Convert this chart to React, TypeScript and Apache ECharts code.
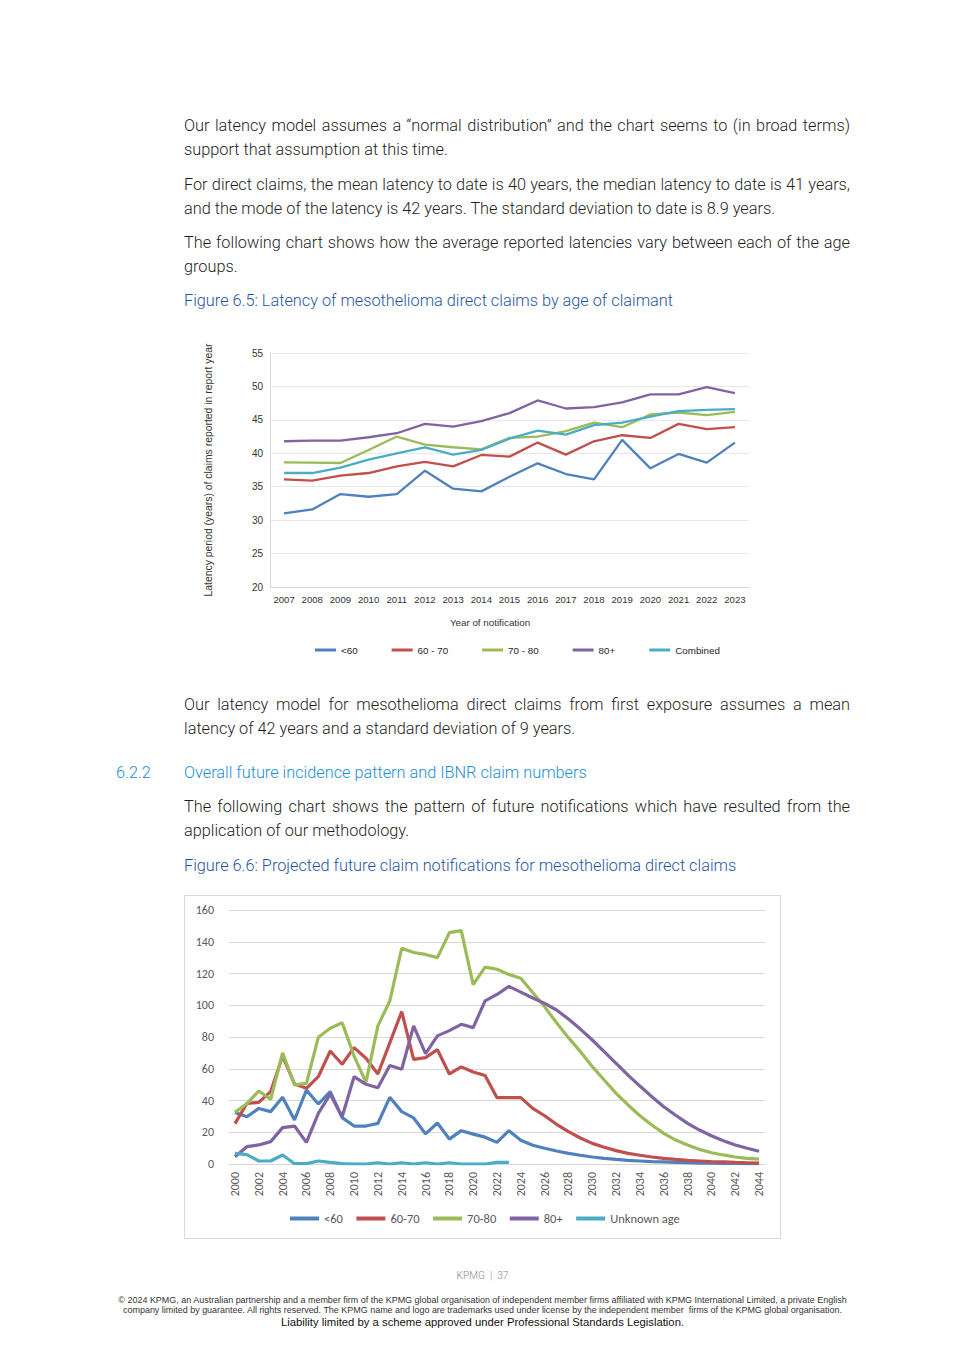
import React, { useEffect, useRef } from "react";
import * as echarts from "echarts";

// ---------- Figure 6.5 data ----------
const latencyYears = ["2007", "2008", "2009", "2010", "2011", "2012", "2013", "2014", "2015", "2016", "2017", "2018", "2019", "2020", "2021", "2022", "2023"];
const latencyUnder60 = [31.0, 31.6, 33.9, 33.5, 33.9, 37.4, 34.7, 34.3, 36.5, 38.5, 36.9, 36.1, 42.0, 37.75, 39.9, 38.6, 41.6];
const latency60to70 = [36.1, 35.9, 36.65, 37.05, 38.05, 38.7, 38.05, 39.75, 39.5, 41.6, 39.8, 41.8, 42.7, 42.3, 44.4, 43.6, 43.9];
const latency70to80 = [38.65, 38.6, 38.55, 40.5, 42.5, 41.3, 40.9, 40.6, 42.3, 42.5, 43.3, 44.6, 43.9, 45.8, 46.1, 45.7, 46.2];
const latency80plus = [41.8, 41.9, 41.9, 42.4, 43.0, 44.4, 44.0, 44.8, 46.0, 47.9, 46.7, 46.9, 47.6, 48.8, 48.8, 49.9, 49.0];
const latencyCombined = [37.05, 37.05, 37.85, 39.05, 40.0, 40.9, 39.8, 40.5, 42.2, 43.4, 42.8, 44.2, 44.6, 45.5, 46.3, 46.5, 46.6];
const latencyNames = ["<60", "60 - 70", "70 - 80", "80+", "Combined"];

// ---------- Figure 6.6 data ----------
const projYears = ["2000", "2001", "2002", "2003", "2004", "2005", "2006", "2007", "2008", "2009", "2010", "2011", "2012", "2013", "2014", "2015", "2016", "2017", "2018", "2019", "2020", "2021", "2022", "2023", "2024", "2025", "2026", "2027", "2028", "2029", "2030", "2031", "2032", "2033", "2034", "2035", "2036", "2037", "2038", "2039", "2040", "2041", "2042", "2043", "2044"];
const projUnder60 = [32.5, 29.8, 35, 33, 42, 27.7, 46.6, 37.8, 45.6, 29.2, 23.9, 23.9, 25.6, 42, 33, 29, 19, 25.8, 15.7, 21, 18.8, 16.9, 13.6, 21, 14.9, 11.8, 9.9, 8.2, 6.7, 5.5, 4.4, 3.6, 2.9, 2.3, 1.9, 1.5, 1.3, 1.0, 0.8, 0.6, 0.5, 0.4, 0.3, 0.2, 0.2];
const proj60to70 = [25.4, 38.2, 38.8, 45.6, 68, 50.4, 47.7, 55, 71.2, 62.8, 73.3, 66.6, 56.7, 76.3, 96, 65.9, 67, 72, 56.7, 61.2, 57.9, 55.7, 41.8, 41.8, 41.8, 35, 30.4, 25, 20.4, 16.4, 13, 10.5, 8.4, 6.7, 5.5, 4.4, 3.6, 2.9, 2.3, 1.9, 1.5, 1.3, 1.0, 0.8, 0.6];
const proj70to80 = [32.5, 38, 46, 40.7, 70, 49.8, 50.8, 79.8, 85.5, 89, 68, 51.5, 87, 102.7, 135.9, 133.2, 132, 130, 145.7, 147, 113, 124, 122.7, 119.4, 117, 108, 99, 89, 79.6, 70.8, 61.3, 52.9, 44.5, 37.2, 30.4, 24.6, 19.3, 15.1, 12, 9.2, 7.1, 5.7, 4.4, 3.6, 3.1];
const proj80plus = [4.6, 10.9, 12, 14.1, 22.9, 23.9, 13.6, 31.9, 44, 29.8, 55, 50.2, 48, 62, 59.7, 87, 69.5, 80.7, 84, 88, 85.9, 102.8, 106.8, 111.9, 108.3, 104.6, 101.2, 97, 91.3, 85, 78.1, 70.8, 63.4, 56, 49.1, 42.4, 36.1, 30.7, 25.6, 21.4, 17.8, 14.7, 12, 9.9, 8.0];
const projUnknown = [6.7, 5.9, 1.9, 1.9, 5.7, 0.2, 0.2, 1.9, 1, 0.2, 0, 0, 0.8, 0, 0.8, 0, 0.8, 0, 0.8, 0, 0, 0, 1, 1];
const projNames = ["<60", "60-70", "70-80", "80+", "Unknown age"];

const seriesColors = ["#4F81BD", "#C0504D", "#9BBB59", "#8064A2", "#4BACC6"];

const narrowFont = '"Liberation Sans Narrow", "Liberation Sans", Arial, sans-serif';
const calibriFont = 'Carlito, "Open Sans", "Noto Sans", sans-serif';

function LatencyChart() {
  const ref = useRef<HTMLDivElement>(null);
  useEffect(() => {
    const chart = echarts.init(ref.current!, null, { renderer: "svg" });
    const data = [latencyUnder60, latency60to70, latency70to80, latency80plus, latencyCombined];
    chart.setOption({
      animation: false,
      color: seriesColors,
      textStyle: { fontFamily: narrowFont },
      grid: { left: 69, right: 26, top: 18, bottom: 78 },
      xAxis: {
        type: "category",
        data: latencyYears,
        boundaryGap: true,
        axisLine: { lineStyle: { color: "#D9D9D9" } },
        axisTick: { show: false },
        axisLabel: { color: "#333333", fontSize: 9.6, margin: 7, interval: 0, fontFamily: narrowFont },
      },
      yAxis: {
        type: "value",
        min: 20,
        max: 55,
        interval: 5,
        name: "Latency period (years) of claims reported in report year",
        nameLocation: "middle",
        nameGap: 57,
        nameTextStyle: { fontSize: 10.4, color: "#333333", fontFamily: narrowFont },
        axisLine: { show: true, lineStyle: { color: "#D9D9D9" } },
        axisTick: { show: false },
        axisLabel: { color: "#333333", fontSize: 10, margin: 7, fontFamily: narrowFont },
        splitLine: { lineStyle: { color: "#E8E8E8" } },
      },
      legend: {
        left: 115,
        top: 305,
        itemWidth: 21,
        itemHeight: 3,
        itemGap: 34,
        textStyle: { fontSize: 9.8, color: "#262626", fontFamily: narrowFont },
        data: latencyNames.map((n) => ({ name: n, icon: "rect" })),
      },
      graphic: [
        {
          type: "text",
          x: 295,
          y: 287,
          style: {
            text: "Year of notification",
            fontSize: 9.8,
            fill: "#333333",
            fontFamily: narrowFont,
            align: "center",
            verticalAlign: "middle",
          },
        },
      ],
      series: latencyNames.map((n, i) => ({
        type: "line",
        name: n,
        data: data[i],
        symbol: "none",
        lineStyle: { width: 2.3 },
      })),
    });
    return () => chart.dispose();
  }, []);
  return <div ref={ref} style={{ position: "absolute", left: 195, top: 335, width: 580, height: 330 }} />;
}

function ProjectionChart() {
  const ref = useRef<HTMLDivElement>(null);
  useEffect(() => {
    const chart = echarts.init(ref.current!, null, { renderer: "svg" });
    const data = [projUnder60, proj60to70, proj70to80, proj80plus, projUnknown];
    chart.setOption({
      animation: false,
      color: seriesColors,
      textStyle: { fontFamily: calibriFont },
      grid: { left: 44, right: 15, top: 14, bottom: 74 },
      xAxis: {
        type: "category",
        data: projYears,
        boundaryGap: true,
        axisLine: { lineStyle: { color: "#D9D9D9" } },
        axisTick: { show: false },
        axisLabel: { color: "#595959", fontSize: 12, margin: 8, rotate: 90, interval: 1, fontFamily: calibriFont },
      },
      yAxis: {
        type: "value",
        min: 0,
        max: 160,
        interval: 20,
        axisLine: { show: false },
        axisTick: { show: false },
        axisLabel: { color: "#595959", fontSize: 12, margin: 15, fontFamily: calibriFont },
        splitLine: { lineStyle: { color: "#D9D9D9" } },
      },
      legend: {
        left: 100,
        top: 311,
        itemWidth: 29,
        itemHeight: 4,
        itemGap: 13.5,
        textStyle: { fontSize: 12.5, color: "#595959", fontFamily: calibriFont },
        data: projNames.map((n) => ({ name: n, icon: "rect" })),
      },
      series: projNames.map((n, i) => ({
        type: "line",
        name: n,
        data: data[i],
        symbol: "none",
        lineStyle: { width: 3.2 },
      })),
    });
    return () => chart.dispose();
  }, []);
  return (
    <div style={{ position: "absolute", left: 184, top: 895, width: 595, height: 342, border: "1px solid #D9D9D9" }}>
      <div ref={ref} style={{ width: 595, height: 342 }} />
    </div>
  );
}

const bodyFont = 'Roboto, "Liberation Sans", Arial, sans-serif';
const textColor = "#1e1e1e";
const figColor = "#1f56a4";
const headColor = "#1a8fd6";

function Line(props: { y: number; text: string; justify?: boolean; color?: string; left?: number; width?: number }) {
  const { y, text, justify, color, left, width } = props;
  return (
    <div
      style={{
        position: "absolute",
        left: left ?? 184,
        top: y - 12,
        width: width ?? 666,
        height: 24,
        lineHeight: "24px",
        fontFamily: bodyFont,
        fontWeight: 300,
        fontSize: 16.3,
        color: color ?? textColor,
        whiteSpace: "nowrap",
        textAlign: justify ? "justify" : "left",
        textAlignLast: justify ? "justify" : "left",
      }}
    >
      {text}
    </div>
  );
}

function Centered(props: { y: number; text: string; size: number; color: string; font: string; weight?: number }) {
  const { y, text, size, color, font, weight } = props;
  return (
    <div
      style={{
        position: "absolute",
        left: 0,
        width: 965,
        top: y - 8,
        height: 16,
        lineHeight: "16px",
        textAlign: "center",
        fontSize: size,
        color,
        fontFamily: font,
        fontWeight: weight ?? 400,
        whiteSpace: "pre",
      }}
    >
      {text}
    </div>
  );
}

export default function App() {
  return (
    <div style={{ position: "absolute", left: 0, top: 0, width: 965, height: 1365, background: "#ffffff", overflow: "hidden" }}>
      <Line y={126} justify text="Our latency model assumes a “normal distribution” and the chart seems to (in broad terms)" />
      <Line y={150} text="support that assumption at this time." />
      <Line y={185} justify text="For direct claims, the mean latency to date is 40 years, the median latency to date is 41 years," />
      <Line y={209} text="and the mode of the latency is 42 years. The standard deviation to date is 8.9 years." />
      <Line y={243} justify text="The following chart shows how the average reported latencies vary between each of the age" />
      <Line y={267} text="groups." />
      <Line y={301} color={figColor} text="Figure 6.5: Latency of mesothelioma direct claims by age of claimant" />
      <LatencyChart />
      <Line y={705} justify text="Our latency model for mesothelioma direct claims from first exposure assumes a mean" />
      <Line y={729} text="latency of 42 years and a standard deviation of 9 years." />
      <Line y={773} left={116} width={60} color={headColor} text="6.2.2" />
      <Line y={773} color={headColor} text="Overall future incidence pattern and IBNR claim numbers" />
      <Line y={807} justify text="The following chart shows the pattern of future notifications which have resulted from the" />
      <Line y={831} text="application of our methodology." />
      <Line y={866} color={figColor} text="Figure 6.6: Projected future claim notifications for mesothelioma direct claims" />
      <ProjectionChart />
      <Centered y={1276} text="KPMG  |  37" size={10.2} color="#8a8a8a" font={bodyFont} weight={300} />
      <Centered y={1300} text="© 2024 KPMG, an Australian partnership and a member firm of the KPMG global organisation of independent member firms affiliated with KPMG International Limited, a private English" size={8.97} color="#333333" font={narrowFont} />
      <Centered y={1310} text="company limited by guarantee. All rights reserved. The KPMG name and logo are trademarks used under license by the independent member  firms of the KPMG global organisation." size={8.96} color="#333333" font={narrowFont} />
      <Centered y={1322} text="Liability limited by a scheme approved under Professional Standards Legislation." size={11.3} color="#111111" font={narrowFont} />
    </div>
  );
}
